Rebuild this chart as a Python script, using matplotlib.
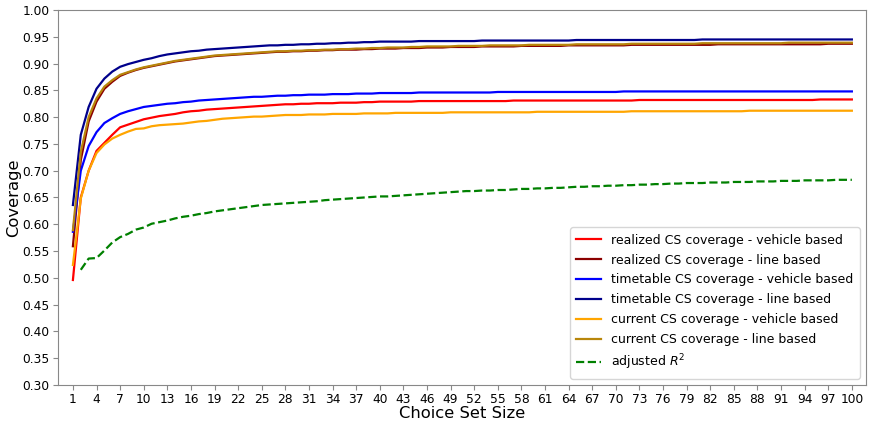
import matplotlib
matplotlib.use("Agg")
import matplotlib.pyplot as plt
import numpy as np

# choice set sizes 1..100
set_size = list(range(1, 101))

realized_vehicle = [
    0.496, 0.650, 0.700, 0.737, 0.752, 0.767, 0.781, 0.786, 0.791, 0.796,
    0.799, 0.802, 0.804, 0.806, 0.809, 0.811, 0.812, 0.814, 0.815, 0.816,
    0.817, 0.818, 0.819, 0.820, 0.821, 0.822, 0.823, 0.824, 0.824, 0.825,
    0.825, 0.826, 0.826, 0.826, 0.827, 0.827, 0.827, 0.828, 0.828, 0.829,
    0.829, 0.829, 0.829, 0.829, 0.830, 0.830, 0.830, 0.830, 0.830, 0.830,
    0.830, 0.830, 0.830, 0.830, 0.830, 0.830, 0.831, 0.831, 0.831, 0.831,
    0.831, 0.831, 0.831, 0.831, 0.831, 0.831, 0.831, 0.831, 0.831, 0.831,
    0.831, 0.831, 0.832, 0.832, 0.832, 0.832, 0.832, 0.832, 0.832, 0.832,
    0.832, 0.832, 0.832, 0.832, 0.832, 0.832, 0.832, 0.832, 0.832, 0.832,
    0.832, 0.832, 0.832, 0.832, 0.832, 0.833, 0.833, 0.833, 0.833, 0.833,
]

realized_line = [
    0.559, 0.720, 0.792, 0.829, 0.853, 0.866, 0.877, 0.883, 0.888, 0.892,
    0.895, 0.898, 0.901, 0.904, 0.906, 0.908, 0.910, 0.912, 0.914, 0.915,
    0.916, 0.917, 0.918, 0.919, 0.920, 0.921, 0.922, 0.922, 0.923, 0.923,
    0.924, 0.924, 0.925, 0.925, 0.926, 0.926, 0.926, 0.927, 0.927, 0.928,
    0.928, 0.928, 0.929, 0.929, 0.929, 0.930, 0.930, 0.930, 0.931, 0.931,
    0.931, 0.931, 0.932, 0.932, 0.932, 0.932, 0.932, 0.933, 0.933, 0.933,
    0.933, 0.933, 0.933, 0.934, 0.934, 0.934, 0.934, 0.934, 0.934, 0.934,
    0.934, 0.935, 0.935, 0.935, 0.935, 0.935, 0.935, 0.935, 0.935, 0.935,
    0.935, 0.935, 0.936, 0.936, 0.936, 0.936, 0.936, 0.936, 0.936, 0.936,
    0.936, 0.936, 0.936, 0.936, 0.936, 0.936, 0.937, 0.937, 0.937, 0.937,
]

timetable_vehicle = [
    0.586, 0.700, 0.746, 0.772, 0.789, 0.798, 0.806, 0.811, 0.815, 0.819,
    0.821, 0.823, 0.825, 0.826, 0.828, 0.829, 0.831, 0.832, 0.833, 0.834,
    0.835, 0.836, 0.837, 0.838, 0.838, 0.839, 0.840, 0.840, 0.841, 0.841,
    0.842, 0.842, 0.842, 0.843, 0.843, 0.843, 0.844, 0.844, 0.844, 0.845,
    0.845, 0.845, 0.845, 0.845, 0.846, 0.846, 0.846, 0.846, 0.846, 0.846,
    0.846, 0.846, 0.846, 0.846, 0.847, 0.847, 0.847, 0.847, 0.847, 0.847,
    0.847, 0.847, 0.847, 0.847, 0.847, 0.847, 0.847, 0.847, 0.847, 0.847,
    0.848, 0.848, 0.848, 0.848, 0.848, 0.848, 0.848, 0.848, 0.848, 0.848,
    0.848, 0.848, 0.848, 0.848, 0.848, 0.848, 0.848, 0.848, 0.848, 0.848,
    0.848, 0.848, 0.848, 0.848, 0.848, 0.848, 0.848, 0.848, 0.848, 0.848,
]

timetable_line = [
    0.636, 0.767, 0.819, 0.853, 0.872, 0.885, 0.894, 0.899, 0.903, 0.907,
    0.910, 0.914, 0.917, 0.919, 0.921, 0.923, 0.924, 0.926, 0.927, 0.928,
    0.929, 0.930, 0.931, 0.932, 0.933, 0.934, 0.934, 0.935, 0.935, 0.936,
    0.936, 0.937, 0.937, 0.938, 0.938, 0.939, 0.939, 0.940, 0.940, 0.941,
    0.941, 0.941, 0.941, 0.941, 0.942, 0.942, 0.942, 0.942, 0.942, 0.942,
    0.942, 0.942, 0.943, 0.943, 0.943, 0.943, 0.943, 0.943, 0.943, 0.943,
    0.943, 0.943, 0.943, 0.943, 0.944, 0.944, 0.944, 0.944, 0.944, 0.944,
    0.944, 0.944, 0.944, 0.944, 0.944, 0.944, 0.944, 0.944, 0.944, 0.944,
    0.945, 0.945, 0.945, 0.945, 0.945, 0.945, 0.945, 0.945, 0.945, 0.945,
    0.945, 0.945, 0.945, 0.945, 0.945, 0.945, 0.945, 0.945, 0.945, 0.945,
]

current_vehicle = [
    0.524, 0.648, 0.700, 0.733, 0.749, 0.760, 0.767, 0.773, 0.778, 0.779,
    0.783, 0.785, 0.786, 0.787, 0.788, 0.790, 0.792, 0.793, 0.795, 0.797,
    0.798, 0.799, 0.800, 0.801, 0.801, 0.802, 0.803, 0.804, 0.804, 0.804,
    0.805, 0.805, 0.805, 0.806, 0.806, 0.806, 0.806, 0.807, 0.807, 0.807,
    0.807, 0.808, 0.808, 0.808, 0.808, 0.808, 0.808, 0.808, 0.809, 0.809,
    0.809, 0.809, 0.809, 0.809, 0.809, 0.809, 0.809, 0.809, 0.809, 0.810,
    0.810, 0.810, 0.810, 0.810, 0.810, 0.810, 0.810, 0.810, 0.810, 0.810,
    0.810, 0.811, 0.811, 0.811, 0.811, 0.811, 0.811, 0.811, 0.811, 0.811,
    0.811, 0.811, 0.811, 0.811, 0.811, 0.811, 0.812, 0.812, 0.812, 0.812,
    0.812, 0.812, 0.812, 0.812, 0.812, 0.812, 0.812, 0.812, 0.812, 0.812,
]

current_line = [
    0.589, 0.735, 0.800, 0.835, 0.857, 0.869, 0.879, 0.884, 0.889, 0.893,
    0.896, 0.899, 0.902, 0.905, 0.907, 0.909, 0.911, 0.913, 0.915, 0.916,
    0.917, 0.918, 0.919, 0.920, 0.921, 0.922, 0.923, 0.923, 0.924, 0.924,
    0.925, 0.925, 0.926, 0.926, 0.927, 0.927, 0.928, 0.928, 0.929, 0.929,
    0.930, 0.930, 0.930, 0.931, 0.931, 0.932, 0.932, 0.932, 0.932, 0.933,
    0.933, 0.933, 0.933, 0.934, 0.934, 0.934, 0.934, 0.934, 0.935, 0.935,
    0.935, 0.935, 0.935, 0.935, 0.936, 0.936, 0.936, 0.936, 0.936, 0.936,
    0.936, 0.937, 0.937, 0.937, 0.937, 0.937, 0.937, 0.937, 0.937, 0.937,
    0.938, 0.938, 0.938, 0.938, 0.938, 0.938, 0.938, 0.938, 0.938, 0.938,
    0.938, 0.939, 0.939, 0.939, 0.939, 0.939, 0.939, 0.939, 0.939, 0.939,
]

# adjusted R^2 has no value for a set size of 1
adjusted_r2 = [
    np.nan, 0.515, 0.536, 0.537, 0.551, 0.566, 0.576, 0.582, 0.590, 0.594,
    0.601, 0.604, 0.607, 0.611, 0.614, 0.616, 0.619, 0.621, 0.624, 0.626,
    0.628, 0.630, 0.632, 0.634, 0.636, 0.637, 0.638, 0.639, 0.640, 0.641,
    0.642, 0.643, 0.645, 0.646, 0.647, 0.648, 0.649, 0.650, 0.651, 0.652,
    0.652, 0.653, 0.654, 0.655, 0.656, 0.657, 0.658, 0.659, 0.660, 0.661,
    0.662, 0.662, 0.663, 0.663, 0.664, 0.664, 0.665, 0.666, 0.666, 0.667,
    0.667, 0.668, 0.668, 0.669, 0.670, 0.670, 0.671, 0.671, 0.672, 0.672,
    0.673, 0.673, 0.674, 0.674, 0.675, 0.675, 0.676, 0.676, 0.677, 0.677,
    0.677, 0.678, 0.678, 0.678, 0.679, 0.679, 0.679, 0.680, 0.680, 0.680,
    0.681, 0.681, 0.681, 0.682, 0.682, 0.682, 0.682, 0.683, 0.683, 0.683,
]

fig = plt.figure(figsize=(8.73, 4.22), dpi=100)
ax = fig.add_axes([0.0664, 0.0877, 0.9256, 0.8886])

lw = 1.6
ax.plot(set_size, realized_vehicle, color="red", lw=lw, label="realized CS coverage - vehicle based")
ax.plot(set_size, realized_line, color="darkred", lw=lw, label="realized CS coverage - line based")
ax.plot(set_size, timetable_vehicle, color="blue", lw=lw, label="timetable CS coverage - vehicle based")
ax.plot(set_size, timetable_line, color="darkblue", lw=lw, label="timetable CS coverage - line based")
ax.plot(set_size, current_vehicle, color="orange", lw=lw, label="current CS coverage - vehicle based")
ax.plot(set_size, current_line, color="darkgoldenrod", lw=lw, label="current CS coverage - line based")
ax.plot(set_size, adjusted_r2, color="green", lw=lw, ls="--", label="adjusted $R^2$")

ax.set_xlim(-0.9, 101.8)
ax.set_ylim(0.30, 1.00)
ax.set_xticks(range(1, 101, 3))
ax.set_yticks(np.arange(0.30, 1.001, 0.05))
ax.yaxis.set_major_formatter(matplotlib.ticker.FormatStrFormatter("%.2f"))
ax.tick_params(labelsize=8.8, color="#888888", length=3.5, pad=2.5)
for s in ax.spines.values():
    s.set_color("#888888")

ax.set_xlabel("Choice Set Size", fontsize=11.8, labelpad=0)
ax.set_ylabel("Coverage", fontsize=11.8, labelpad=1)

ax.legend(loc="lower right", fontsize=9.0, frameon=True, handlelength=2.0,
          borderpad=0.5, labelspacing=0.55)

fig.savefig("out.png", dpi=100)
